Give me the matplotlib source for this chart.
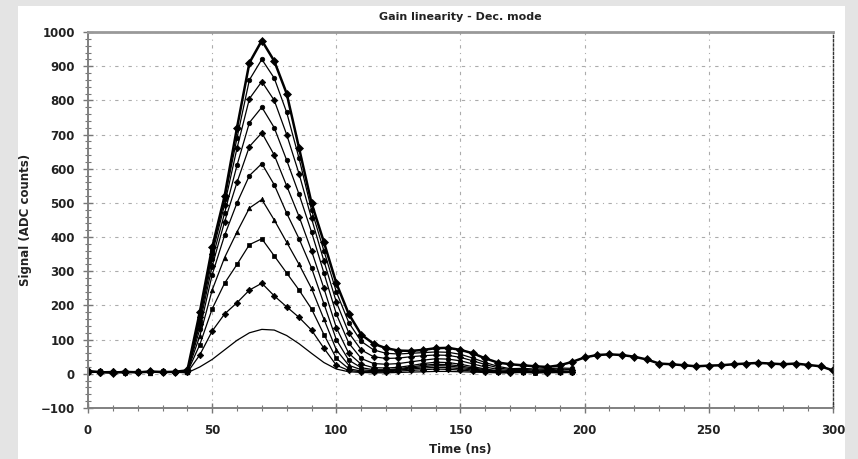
import matplotlib
matplotlib.use("Agg")
import matplotlib.pyplot as plt
from matplotlib.patches import Rectangle
from matplotlib.ticker import MultipleLocator
import numpy as np

# sampling times (ns) for the pulse runs, one sample every 5 ns
time_short = np.arange(0, 200, 5)
time_long = np.arange(0, 305, 5)

# ADC counts per run, smallest injected charge first
sig_130 = [5, 4, 6, 3, 5, 4, 6, 5, 3, 20, 42, 70, 98, 120, 130, 128, 112, 88, 60, 33,
           14, 6, 4, 3, 3, 4, 5, 6, 7, 7, 6, 5, 4, 3, 3, 4, 3, 4, 3, 4]
sig_265 = [6, 3, 5, 7, 4, 6, 5, 4, 4, 55, 125, 175, 208, 245, 265, 228, 196, 165, 128, 75,
           25, 10, 6, 5, 6, 8, 10, 12, 14, 13, 11, 8, 6, 4, 3, 5, 4, 3, 5, 4]
sig_395 = [4, 7, 5, 3, 6, 5, 7, 5, 5, 85, 190, 265, 320, 378, 395, 345, 295, 245, 190, 115,
           45, 15, 8, 7, 8, 11, 14, 17, 19, 18, 15, 11, 8, 5, 4, 5, 3, 5, 4, 5]
sig_510 = [5, 6, 4, 7, 5, 3, 6, 4, 6, 110, 245, 340, 415, 485, 510, 450, 385, 320, 250, 160,
           70, 25, 12, 9, 10, 13, 17, 21, 24, 23, 19, 14, 10, 7, 5, 6, 4, 6, 5, 6]
sig_615 = [7, 5, 6, 4, 6, 5, 4, 7, 7, 130, 290, 405, 500, 580, 615, 553, 470, 395, 310, 205,
           100, 40, 18, 12, 12, 15, 20, 25, 28, 27, 23, 17, 12, 8, 6, 7, 5, 7, 6, 5]
sig_705 = [4, 6, 7, 5, 4, 7, 5, 6, 8, 145, 315, 445, 560, 665, 705, 640, 550, 460, 360, 250,
           135, 60, 28, 18, 17, 19, 24, 30, 34, 33, 28, 21, 14, 9, 7, 8, 6, 8, 7, 6]
sig_780 = [6, 5, 4, 6, 7, 5, 6, 4, 8, 155, 335, 470, 610, 735, 780, 720, 625, 525, 415, 295,
           175, 90, 45, 30, 28, 30, 35, 40, 44, 43, 38, 29, 20, 13, 9, 10, 8, 10, 9, 8]
sig_855 = [5, 7, 5, 6, 4, 6, 7, 5, 9, 165, 350, 495, 660, 805, 855, 800, 700, 585, 455, 330,
           210, 120, 70, 50, 45, 46, 50, 53, 55, 54, 48, 38, 27, 18, 12, 13, 11, 12, 14, 12]
sig_920 = [7, 4, 6, 5, 7, 4, 5, 6, 9, 172, 360, 510, 690, 860, 920, 865, 765, 630, 480, 360,
           240, 150, 95, 70, 60, 58, 60, 62, 64, 63, 57, 46, 33, 22, 15, 16, 14, 15, 17, 16]
sig_975 = [8, 5, 3, 6, 4, 7, 5, 6, 10, 180, 370, 520, 720, 910, 975, 915, 820, 660, 500, 385,
           265, 175, 115, 88, 75, 68, 67, 70, 75, 76, 70, 60, 45, 33, 28, 25, 22, 20, 25, 35,
           48, 55, 57, 55, 50, 42, 30, 28, 25, 22, 24, 25, 28, 30, 32, 30, 28, 30, 26, 22, 10]

runs = [sig_130, sig_265, sig_395, sig_510, sig_615,
        sig_705, sig_780, sig_855, sig_920, sig_975]
markers = ['', 'D', 's', '^', 'o', 'D', 'o', 'D', 'o', 'D']

fig = plt.figure(figsize=(8.58, 4.59), dpi=100)
fig.patch.set_facecolor('#e4e4e4')
# white sheet behind the chart
fig.add_artist(Rectangle((18 / 858, 0), 827 / 858, 453 / 459,
                         transform=fig.transFigure, facecolor='white',
                         edgecolor='none', zorder=0))

ax = fig.add_axes([88 / 858, 51 / 459, 745 / 858, 376 / 459])
ax.set_facecolor('white')

for sig, mk in zip(runs, markers):
    long_run = len(sig) == len(time_long)
    t = time_long if long_run else time_short
    ax.plot(t, sig, color='black', linewidth=1.8 if long_run else 0.9,
            marker=mk, markersize=4 if long_run else 3.3,
            markerfacecolor='black', markeredgewidth=0.5)

ax.set_xlim(0, 300)
ax.set_ylim(-100, 1000)
ax.xaxis.set_major_locator(MultipleLocator(50))
ax.xaxis.set_minor_locator(MultipleLocator(10))
ax.yaxis.set_major_locator(MultipleLocator(100))
ax.yaxis.set_minor_locator(MultipleLocator(20))

ax.grid(True, which='major', color='#ababab', linewidth=0.8,
        linestyle=(0, (3, 4, 1, 4)))

ax.tick_params(axis='both', which='major', direction='inout', length=7,
               width=1.0, color='#777777', labelsize=8.5, pad=6)
ax.tick_params(axis='both', which='minor', direction='inout', length=5,
               width=0.8, color='#777777')
ax.tick_params(axis='x', which='major', pad=8)
for lbl in ax.get_xticklabels() + ax.get_yticklabels():
    lbl.set_fontweight('bold')
    lbl.set_color('#222222')

for side in ('left', 'bottom'):
    ax.spines[side].set_color('#808080')
    ax.spines[side].set_linewidth(1.4)
ax.spines['top'].set_color('#999999')
ax.spines['top'].set_linewidth(2.0)
ax.spines['right'].set_color('#333333')
ax.spines['right'].set_linewidth(1.0)
ax.spines['right'].set_linestyle((0, (1.5, 1.5)))

ax.set_title('Gain linearity - Dec. mode', fontsize=8, fontweight='bold',
             color='#222222', pad=9)
ax.set_xlabel('Time (ns)', fontsize=8.5, fontweight='bold', color='#222222',
              labelpad=4)
ax.set_ylabel('Signal (ADC counts)', fontsize=8.5, fontweight='bold',
              color='#222222', labelpad=6)

fig.savefig('out.png', dpi=100)
